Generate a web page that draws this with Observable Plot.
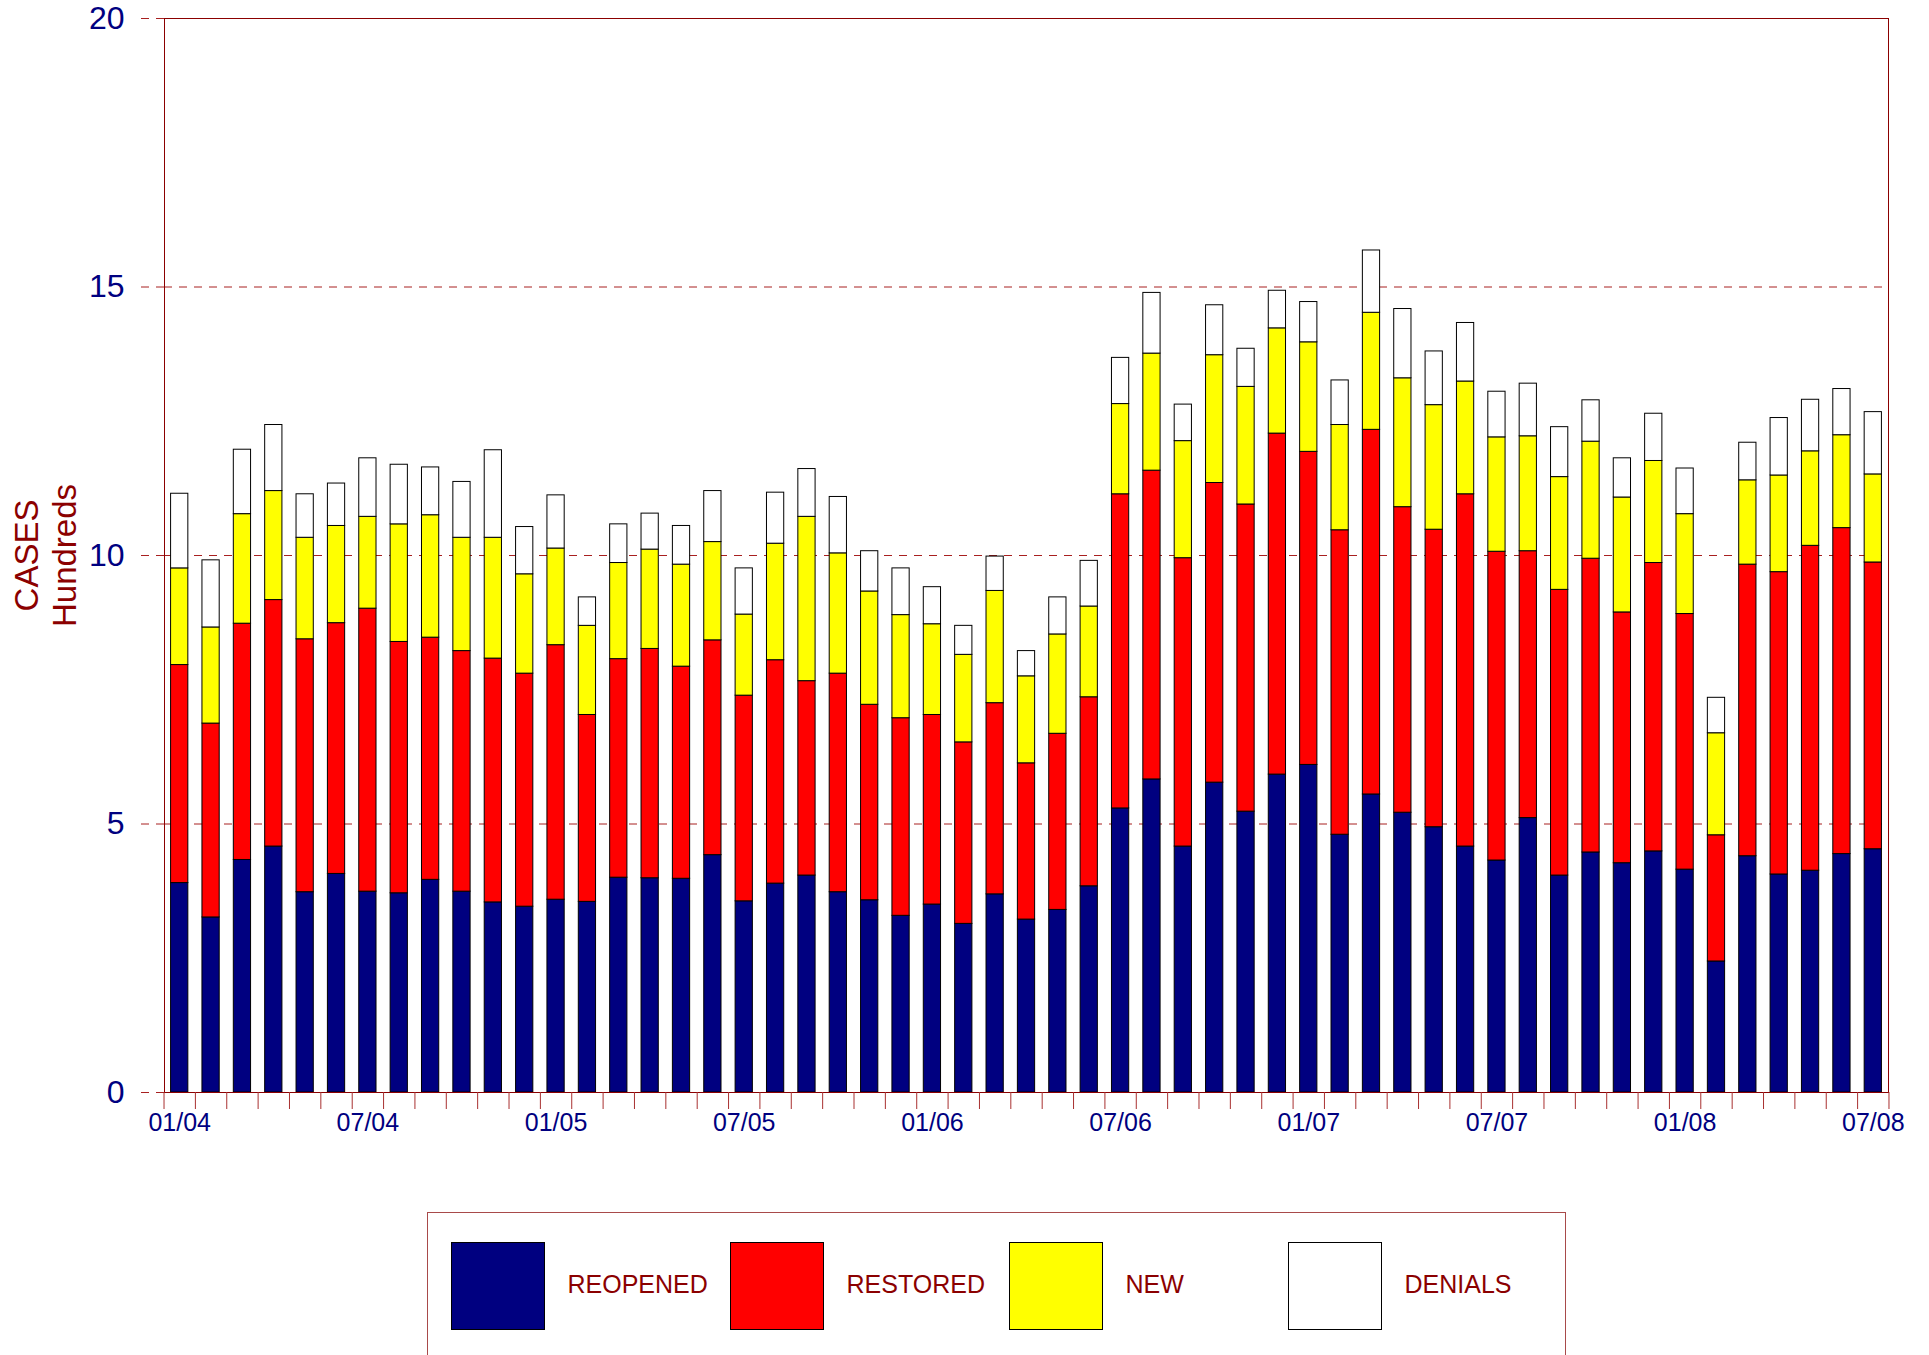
<!DOCTYPE html>
<html>
<head>
<meta charset="utf-8">
<script src="https://cdn.jsdelivr.net/npm/d3@7"></script>
<script src="https://cdn.jsdelivr.net/npm/@observablehq/plot@0.6"></script>
<style>
  html, body { margin: 0; padding: 0; background: #fff; }
  #chart svg { display: block; }
  #legend { position: relative; margin-left: 427px; margin-top: 62px; width: 1139px; height: 200px;
            border: 1px solid #a84a4a; box-sizing: border-box; font-family: "Liberation Sans", Arial, sans-serif; }
  .sw { position: absolute; top: 29px; width: 94px; height: 88px; border: 1px solid #000; box-sizing: border-box; }
  .lb { position: absolute; top: 59px; font-size: 25px; line-height: 25px; color: #8B0000; white-space: nowrap; }
</style>
</head>
<body>
<div id="chart"></div>
<div id="legend"></div>
<script>
const months = [
  "01/04","02/04","03/04","04/04","05/04","06/04","07/04","08/04","09/04","10/04","11/04","12/04",
  "01/05","02/05","03/05","04/05","05/05","06/05","07/05","08/05","09/05","10/05","11/05","12/05",
  "01/06","02/06","03/06","04/06","05/06","06/06","07/06","08/06","09/06","10/06","11/06","12/06",
  "01/07","02/07","03/07","04/07","05/07","06/07","07/07","08/07","09/07","10/07","11/07","12/07",
  "01/08","02/08","03/08","04/08","05/08","06/08","07/08"
];
const reopened = [
  3.90,3.26,4.33,4.58,3.73,4.07,3.74,3.71,3.96,3.74,3.54,3.46,
  3.59,3.55,4.00,3.99,3.98,4.42,3.56,3.89,4.04,3.73,3.58,3.29,
  3.50,3.14,3.69,3.22,3.40,3.84,5.29,5.83,4.58,5.77,5.23,5.92,
  6.10,4.80,5.55,5.21,4.94,4.58,4.32,5.11,4.04,4.47,4.27,4.49,
  4.15,2.44,4.40,4.06,4.13,4.44,4.53
];
const restored = [
  4.06,3.61,4.40,4.59,4.71,4.67,5.27,4.68,4.51,4.48,4.54,4.34,
  4.74,3.48,4.07,4.27,3.95,4.00,3.83,4.16,3.62,4.07,3.64,3.68,
  3.53,3.38,3.56,2.91,3.28,3.52,5.85,5.75,5.37,5.58,5.72,6.35,
  5.83,5.67,6.79,5.69,5.54,6.56,5.75,4.97,5.32,5.47,4.67,5.37,
  4.76,2.35,5.43,5.63,6.05,6.07,5.34
];
const newCases = [
  1.80,1.79,2.04,2.03,1.89,1.81,1.71,2.19,2.28,2.11,2.25,1.85,
  1.80,1.66,1.79,1.85,1.90,1.83,1.51,2.17,3.06,2.24,2.11,1.92,
  1.69,1.63,2.09,1.62,1.85,1.69,1.68,2.18,2.18,2.38,2.19,1.96,
  2.04,1.96,2.18,2.40,2.32,2.10,2.13,2.14,2.10,2.18,2.14,1.90,
  1.86,1.90,1.57,1.80,1.76,1.73,1.64
];
const denials = [
  1.39,1.25,1.20,1.23,0.81,0.79,1.09,1.11,0.89,1.04,1.63,0.88,
  0.99,0.53,0.72,0.67,0.72,0.95,0.86,0.95,0.89,1.05,0.75,0.87,
  0.69,0.54,0.64,0.47,0.69,0.85,0.86,1.13,0.68,0.93,0.71,0.70,
  0.75,0.83,1.16,1.29,1.00,1.09,0.85,0.98,0.93,0.77,0.73,0.88,
  0.85,0.66,0.70,1.07,0.96,0.86,1.16
];
const seriesNames = ["REOPENED", "RESTORED", "NEW", "DENIALS"];
const seriesColors = ["#000080", "#FF0000", "#FFFF00", "#FFFFFF"];
const yTicks = [0, 5, 10, 15, 20];
const yGrid = [5, 10, 15];
const xTickLabels = ["01/04","07/04","01/05","07/05","01/06","07/06","01/07","07/07","01/08","07/08"];
const yTitle = ["CASES", "Hundreds"];

const seriesArrays = [reopened, restored, newCases, denials];
const rows = [];
months.forEach((m, i) => {
  seriesArrays.forEach((arr, k) => rows.push({month: m, series: seriesNames[k], value: arr[i]}));
});

const FONT = "'Liberation Sans', Arial, sans-serif";
const frameColor = "#8B0000";
const gridColor = "#a82020";
const tickColor = "#a83030";

function build(step) {
  return Plot.plot({
    width: 1929,
    height: 1150,
    marginLeft: 164,
    marginRight: 41,
    marginTop: 18,
    marginBottom: 58,
    style: {fontFamily: FONT, background: "white", overflow: "visible"},
    x: {type: "band", domain: months, paddingInner: 0.45, paddingOuter: 0.21, round: false, axis: null, label: null},
    y: {domain: [0, 20], axis: null, label: null},
    color: {domain: seriesNames, range: seriesColors},
    marks: [
      Plot.gridY(yGrid, {stroke: gridColor, strokeOpacity: 1, strokeWidth: 1, strokeDasharray: "8,7"}),
      Plot.barY(rows, {x: "month", y: "value", fill: "series", stroke: "#000", strokeWidth: 1}),
      Plot.frame({stroke: frameColor, strokeWidth: 1}),
      Plot.axisY(yTicks, {label: null, tickSize: 24, tickFormat: () => "", stroke: gridColor, strokeDasharray: "8,7"}),
      Plot.axisY(yTicks, {label: null, tickSize: 0, tickPadding: 40, fill: "#000080", fontSize: 32, tickFormat: d => String(d)}),
      Plot.axisX(months, {label: null, tickSize: 17, tickFormat: () => "", stroke: tickColor, dx: -step / 2}),
      Plot.axisX([months[months.length - 1]], {label: null, tickSize: 17, tickFormat: () => "", stroke: tickColor, dx: step / 2}),
      Plot.axisX(xTickLabels, {label: null, tickSize: 0, tickPadding: 21, fill: "#000080", fontSize: 25, tickFormat: d => d}),
      Plot.text([yTitle[0]], {text: d => d, frameAnchor: "left", textAnchor: "middle", rotate: -90, dx: -126.7, lineAnchor: "bottom", fill: frameColor, fontSize: 33}),
      Plot.text([yTitle[1]], {text: d => d, frameAnchor: "left", textAnchor: "middle", rotate: -90, dx: -89, lineAnchor: "bottom", fill: frameColor, fontSize: 33})
    ]
  });
}

const probe = build(0);
let step = probe.scale("x").step;
if (!step) step = (1929 - 164 - 41) / (months.length - 0.45 + 2 * 0.21);
const chart = build(step);
document.getElementById("chart").appendChild(chart);

const legend = document.getElementById("legend");
seriesNames.forEach((name, k) => {
  const sw = document.createElement("div");
  sw.className = "sw";
  sw.style.left = (22.5 + k * 279) + "px";
  sw.style.background = seriesColors[k];
  legend.appendChild(sw);
  const lb = document.createElement("div");
  lb.className = "lb";
  lb.style.left = (139.5 + k * 279) + "px";
  lb.textContent = name;
  legend.appendChild(lb);
});
</script>
</body>
</html>
